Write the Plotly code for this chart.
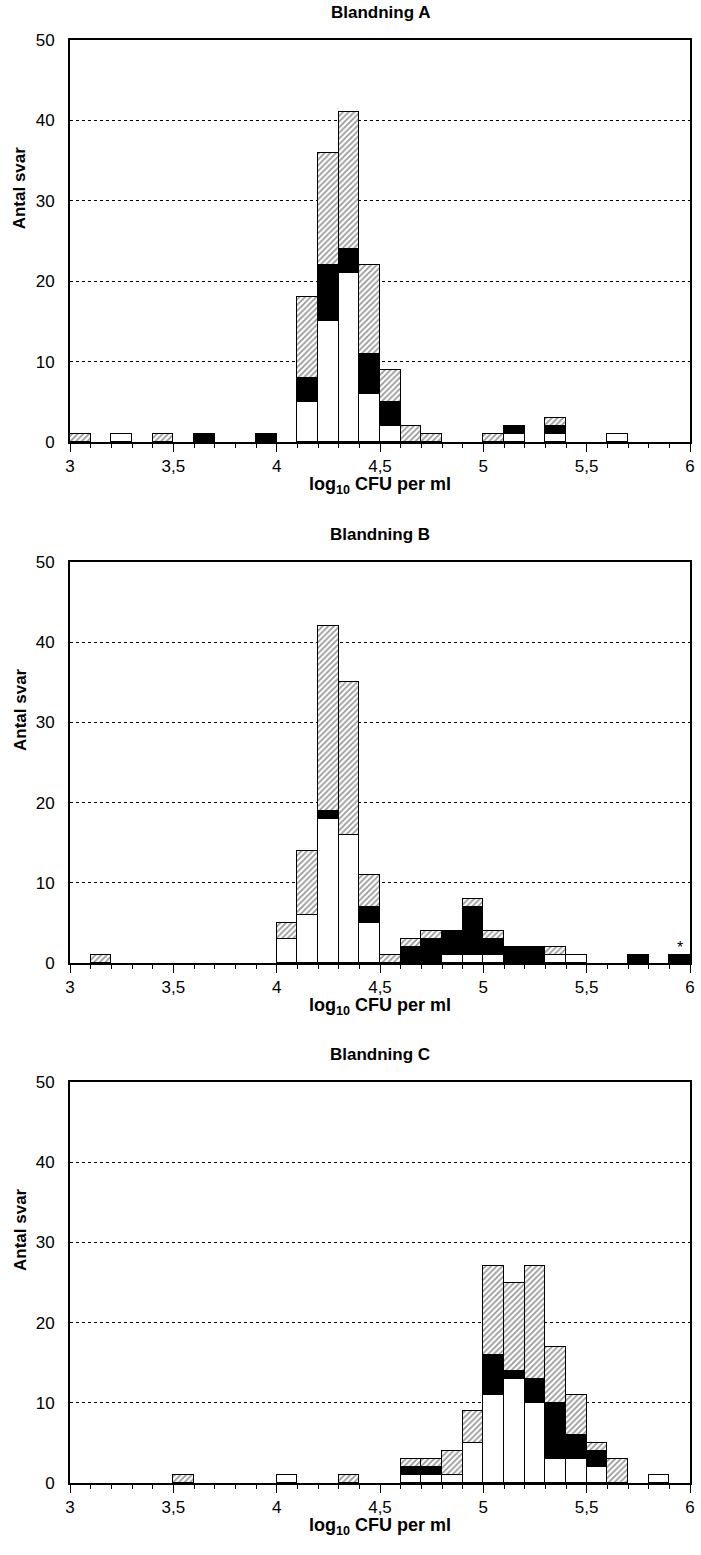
import plotly.graph_objects as go

# ---------------- data ----------------
BIN_CENTERS = [3.05, 3.15, 3.25, 3.35, 3.45, 3.55, 3.65, 3.75, 3.85, 3.95,
               4.05, 4.15, 4.25, 4.35, 4.45, 4.55, 4.65, 4.75, 4.85, 4.95,
               5.05, 5.15, 5.25, 5.35, 5.45, 5.55, 5.65, 5.75, 5.85, 5.95]

PANEL_TITLES = ["Blandning A", "Blandning B", "Blandning C"]

A_WHITE = [0, 0, 1, 0, 0, 0, 0, 0, 0, 0, 0, 5, 15, 21, 6, 2, 0, 0, 0, 0, 0, 1, 0, 1, 0, 0, 1, 0, 0, 0]
A_BLACK = [0, 0, 0, 0, 0, 0, 1, 0, 0, 1, 0, 3, 7, 3, 5, 3, 0, 0, 0, 0, 0, 1, 0, 1, 0, 0, 0, 0, 0, 0]
A_HATCH = [1, 0, 0, 0, 1, 0, 0, 0, 0, 0, 0, 10, 14, 17, 11, 4, 2, 1, 0, 0, 1, 0, 0, 1, 0, 0, 0, 0, 0, 0]

B_WHITE = [0, 0, 0, 0, 0, 0, 0, 0, 0, 0, 3, 6, 18, 16, 5, 0, 0, 0, 1, 1, 1, 0, 0, 1, 1, 0, 0, 0, 0, 0]
B_BLACK = [0, 0, 0, 0, 0, 0, 0, 0, 0, 0, 0, 0, 1, 0, 2, 0, 2, 3, 3, 6, 2, 2, 2, 0, 0, 0, 0, 1, 0, 1]
B_HATCH = [0, 1, 0, 0, 0, 0, 0, 0, 0, 0, 2, 8, 23, 19, 4, 1, 1, 1, 0, 1, 1, 0, 0, 1, 0, 0, 0, 0, 0, 0]

C_WHITE = [0, 0, 0, 0, 0, 0, 0, 0, 0, 0, 1, 0, 0, 0, 0, 0, 1, 1, 1, 5, 11, 13, 10, 3, 3, 2, 0, 0, 1, 0]
C_BLACK = [0, 0, 0, 0, 0, 0, 0, 0, 0, 0, 0, 0, 0, 0, 0, 0, 1, 1, 0, 0, 5, 1, 3, 7, 3, 2, 0, 0, 0, 0]
C_HATCH = [0, 0, 0, 0, 0, 1, 0, 0, 0, 0, 0, 0, 0, 1, 0, 0, 1, 1, 3, 4, 11, 11, 14, 7, 5, 1, 3, 0, 0, 0]

X_TICKS = [3, 3.5, 4, 4.5, 5, 5.5, 6]
X_TICK_LABELS = ["3", "3,5", "4", "4,5", "5", "5,5", "6"]
Y_TICKS = [0, 10, 20, 30, 40, 50]
Y_TICK_LABELS = ["0", "10", "20", "30", "40", "50"]
X_TITLE = "<b>log<sub>10</sub> CFU per ml</b>"
Y_TITLE = "<b>Antal svar</b>"
STAR_X = 5.95
STAR_Y = 1

# ---------------- layout ----------------
W, H = 701, 1555
ML, MR, MT, MB = 70, 6, 40, 72
PLOT_H = H - MT - MB
PANEL_PX = [(40, 442), (562, 963), (1082, 1483)]
FONT = "Liberation Sans, Arial, sans-serif"
TICK_SIZE = 17
TITLE_SIZE = 17


def frac(py):
    return (H - MB - py) / PLOT_H


def nz(vals):
    return [v if v else None for v in vals]


series = [(A_WHITE, A_BLACK, A_HATCH), (B_WHITE, B_BLACK, B_HATCH), (C_WHITE, C_BLACK, C_HATCH)]

fig = go.Figure()
annotations = []
layout = {}

for k, ((wv, bv, hv), (top, bot)) in enumerate(zip(series, PANEL_PX)):
    n = k + 1
    xa = "x" if n == 1 else f"x{n}"
    ya = "y" if n == 1 else f"y{n}"
    line = dict(color="black", width=1)
    fig.add_trace(go.Bar(x=BIN_CENTERS, y=nz(wv), width=0.1, xaxis=xa, yaxis=ya,
                         marker=dict(color="white", line=line), showlegend=False))
    fig.add_trace(go.Bar(x=BIN_CENTERS, y=nz(bv), width=0.1, xaxis=xa, yaxis=ya,
                         marker=dict(color="black", line=line), showlegend=False))
    fig.add_trace(go.Bar(x=BIN_CENTERS, y=nz(hv), width=0.1, xaxis=xa, yaxis=ya,
                         marker=dict(color="white", line=line,
                                     pattern=dict(shape="/", fgcolor="#333333", bgcolor="white",
                                                  size=4, solidity=0.45)),
                         showlegend=False))

    xkey = "xaxis" if n == 1 else f"xaxis{n}"
    ykey = "yaxis" if n == 1 else f"yaxis{n}"
    layout[xkey] = dict(
        domain=[0, 1], anchor=ya, range=[3, 6],
        tickmode="array", tickvals=X_TICKS, ticktext=X_TICK_LABELS,
        ticks="outside", ticklen=8, tickwidth=1, tickcolor="black",
        minor=dict(ticks="outside", ticklen=4, tickwidth=1, tickcolor="black",
                   tickmode="linear", tick0=3, dtick=0.1, showgrid=False),
        showline=True, linewidth=2, linecolor="black", mirror=True,
        showgrid=False, zeroline=False,
        tickfont=dict(family=FONT, size=TICK_SIZE, color="black"),
    )
    layout[ykey] = dict(
        domain=[frac(bot), frac(top)], anchor=xa, range=[0, 50],
        tickmode="array", tickvals=Y_TICKS, ticktext=Y_TICK_LABELS,
        ticks="", ticklabelstandoff=10,
        showline=True, linewidth=2, linecolor="black", mirror=True,
        showgrid=True, gridcolor="black", gridwidth=1, griddash="3px,3px",
        zeroline=False,
        tickfont=dict(family=FONT, size=TICK_SIZE, color="black"),
    )
    # panel title
    annotations.append(dict(text=f"<b>{PANEL_TITLES[k]}</b>", xref="paper", yref="paper",
                            x=0.5, y=frac(top), yshift=28, xanchor="center", yanchor="middle",
                            showarrow=False, font=dict(family=FONT, size=TITLE_SIZE, color="black")))
    # x title
    annotations.append(dict(text=X_TITLE, xref="paper", yref="paper",
                            x=0.5, y=frac(bot), yshift=-43, xanchor="center", yanchor="middle",
                            showarrow=False, font=dict(family=FONT, size=TITLE_SIZE + 1, color="black")))
    # y title
    annotations.append(dict(text=Y_TITLE, xref="paper", yref=ya,
                            x=(20 - ML) / (W - ML - MR), y=31.6, xanchor="center", yanchor="middle",
                            textangle=-90, showarrow=False,
                            font=dict(family=FONT, size=TITLE_SIZE, color="black")))

annotations.append(dict(text="*", xref="x2", yref="y2", x=STAR_X, y=STAR_Y,
                        xanchor="center", yanchor="bottom", yshift=-3, showarrow=False,
                        font=dict(family=FONT, size=16, color="black")))

fig.update_layout(
    width=W, height=H,
    margin=dict(l=ML, r=MR, t=MT, b=MB),
    paper_bgcolor="white", plot_bgcolor="white",
    barmode="stack", bargap=0,
    showlegend=False,
    annotations=annotations,
    font=dict(family=FONT, color="black"),
    **layout,
)

fig.write_html("out.html")
